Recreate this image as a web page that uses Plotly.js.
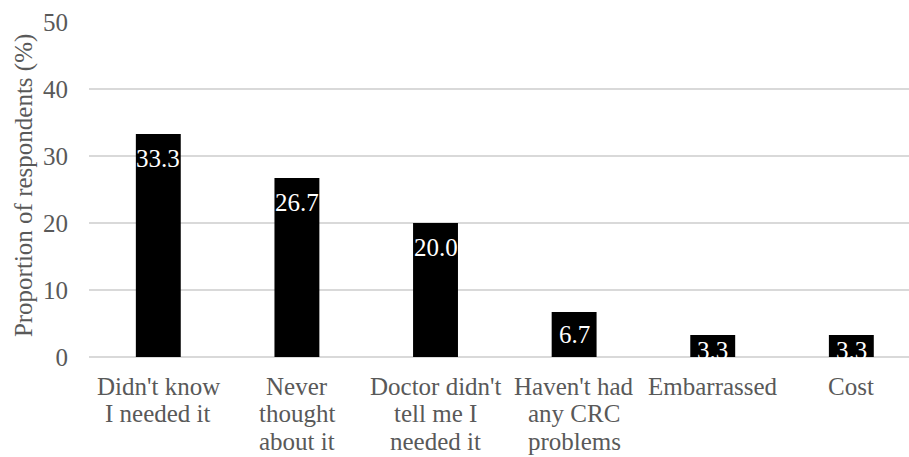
<!DOCTYPE html>
<html>
<head>
<meta charset="utf-8">
<script src="https://cdn.plot.ly/plotly-3.0.1.min.js"></script>
<style>html,body{margin:0;padding:0;background:#fff;}#chart{width:909px;height:457px;}</style>
</head>
<body>
<div id="chart"></div>
<script>
var categories = ["Didn't know<br>I needed it", "Never<br>thought<br>about it", "Doctor didn't<br>tell me I<br>needed it", "Haven't had<br>any CRC<br>problems", "Embarrassed", "Cost"];
var values = [33.3, 26.7, 20.0, 6.7, 3.3, 3.3];
var valueLabels = ["33.3", "26.7", "20.0", "6.7", "3.3", "3.3"];
var yTickVals = [0, 10, 20, 30, 40, 50];
var yAxisTitle = "Proportion of respondents (%)";

var FONT = "Liberation Serif";
var GRAY = "#595959";
var FS = 25;

var W = 909, H = 457;
var M = {l: 89, r: 0, t: 22, b: 100};
var Y_MAX = 50;
var pxPerUnit = (H - M.t - M.b) / Y_MAX;

var trace = {
  type: "bar",
  x: categories,
  y: values,
  marker: {color: "#000000", line: {width: 0}},
  width: 0.324,
  hoverinfo: "skip"
};

var annotations = [];

// value labels inside bar tops (Excel "inside end" style)
var ASC = 0.891 * FS, CAP = 0.662 * FS;
values.forEach(function (v, i) {
  var h = v * pxPerUnit;
  var off = Math.min(17, Math.max(8, (h - CAP) / 2)); // gap from bar top to digit top
  annotations.push({
    x: categories[i], y: v, xref: "x", yref: "y",
    text: valueLabels[i], showarrow: false,
    xanchor: "center", yanchor: "top",
    yshift: -(off - (ASC - CAP)),
    borderpad: 0, borderwidth: 0,
    font: {family: FONT, size: FS, color: "#ffffff"}
  });
});

// category labels with tighter line spacing than Plotly's default
var LINE = 27.5, FIRST_BASE = 38; // px below axis for first baseline
categories.forEach(function (c, i) {
  c.split("<br>").forEach(function (line, j) {
    annotations.push({
      x: c, y: 0, xref: "x", yref: "y",
      text: line, showarrow: false,
      xanchor: "center", yanchor: "top",
      yshift: -(FIRST_BASE + j * LINE - ASC),
      borderpad: 0, borderwidth: 0,
      font: {family: FONT, size: FS, color: GRAY}
    });
  });
});

annotations.push({
  text: yAxisTitle,
  xref: "paper", yref: "paper",
  x: -0.0793, y: 0.513,
  xanchor: "center", yanchor: "middle",
  textangle: -90,
  showarrow: false,
  borderpad: 0, borderwidth: 0,
  font: {family: FONT, size: FS, color: GRAY}
});

var layout = {
  width: W,
  height: H,
  margin: {l: M.l, r: M.r, t: M.t, b: M.b, pad: 0},
  paper_bgcolor: "#ffffff",
  plot_bgcolor: "#ffffff",
  showlegend: false,
  font: {family: FONT, size: FS, color: GRAY},
  xaxis: {
    type: "category",
    range: [-0.5, 5.416],
    showgrid: false,
    zeroline: false,
    showline: false,
    ticks: "",
    showticklabels: false,
    automargin: false
  },
  yaxis: {
    range: [0, Y_MAX],
    tickvals: yTickVals,
    showgrid: true,
    gridcolor: "#d9d9d9",
    gridwidth: 1.3,
    zeroline: true,
    zerolinecolor: "#d9d9d9",
    zerolinewidth: 1.3,
    showline: false,
    ticks: "",
    tickfont: {family: FONT, size: FS, color: GRAY},
    ticklabelstandoff: 20,
    automargin: false
  },
  annotations: annotations
};

Plotly.newPlot("chart", [trace], layout, {displayModeBar: false, staticPlot: true});
</script>
</body>
</html>
